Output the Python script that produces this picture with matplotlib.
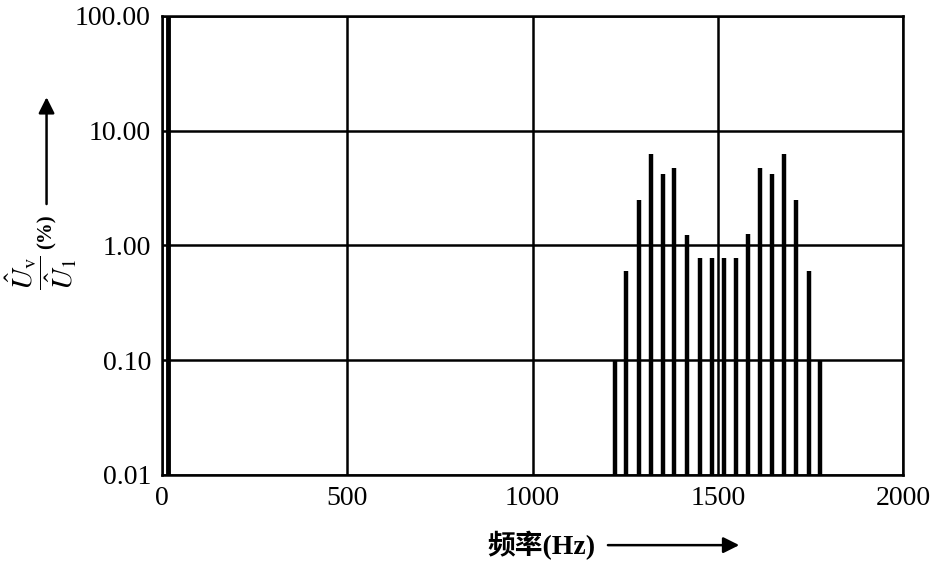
import matplotlib.pyplot as plt

plt.rcParams['font.family'] = ['Liberation Serif', 'Noto Sans CJK SC']
plt.rcParams['mathtext.fontset'] = 'stix'

# fundamental and harmonic spectrum (values in % of fundamental)
fund_freq = [15]
fund_value = [100.0]
harm_freqs = [1223, 1253, 1288, 1321, 1351, 1383, 1418, 1451, 1484,
              1516, 1549, 1582, 1614, 1647, 1679, 1712, 1745, 1777]
harm_values = [0.1, 0.6, 2.5, 6.3, 4.2, 4.7, 1.22, 0.77, 0.77,
               0.77, 0.77, 1.25, 4.7, 4.2, 6.2, 2.5, 0.6, 0.1]

y_ticks = [0.01, 0.1, 1, 10, 100]
y_labels = ['0.01', '0.10', '1.00', '10.00', '100.00']
x_ticks = [0, 500, 1000, 1500, 2000]

fig = plt.figure(figsize=(9.31, 5.62), dpi=100)
ax = fig.add_axes([0.174, 0.155, 0.796, 0.817])

ax.set_yscale('log')
ax.set_xlim(0, 2000)
ax.set_ylim(0.01, 100)

ax.grid(True, which='major', color='black', lw=1.8)
ax.set_axisbelow(True)

ax.vlines(fund_freq, 0.01, fund_value, color='black', lw=3.5)
ax.vlines(harm_freqs, 0.01, harm_values, color='black', lw=3.2)

ax.set_yticks(y_ticks)
ax.set_yticklabels(y_labels)
ax.minorticks_off()
ax.set_xticks(x_ticks)
ax.tick_params(length=0, labelsize=20, pad=8)
for s in ax.spines.values():
    s.set_linewidth(1.8)

# y label: fraction, (%) and an upward arrow
fig.text(0.044, 0.515, r'$\dfrac{\hat{U}_\mathrm{v}}{\hat{U}_1}$', rotation=90,
         fontsize=21, ha='center', va='center')
fig.text(0.050, 0.587, '(%)', rotation=90, fontsize=15, fontweight='bold',
         ha='center', va='center')
ax.annotate('', xy=(0.050, 0.832), xytext=(0.050, 0.632), xycoords='figure fraction',
            arrowprops=dict(arrowstyle='-|>', color='black', lw=1.8, mutation_scale=24))

# x label with a rightward arrow
fig.text(0.640, 0.030, '频率(Hz)', fontsize=20, ha='right', va='center', fontweight='bold')
ax.annotate('', xy=(0.797, 0.030), xytext=(0.650, 0.030), xycoords='figure fraction',
            arrowprops=dict(arrowstyle='-|>', color='black', lw=1.8, mutation_scale=24))

fig.savefig('out.png', dpi=100)
